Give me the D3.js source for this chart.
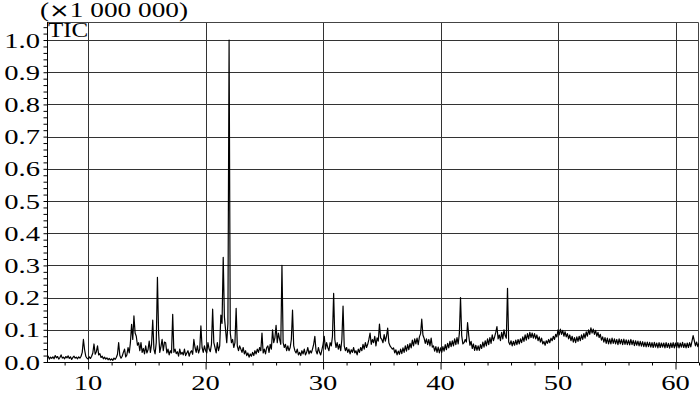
<!DOCTYPE html>
<html>
<head>
<meta charset="utf-8">
<script src="https://cdn.jsdelivr.net/npm/d3@7"></script>
<style>
  body { margin: 0; background: #fff; }
  text { font-family: "Liberation Serif", "Times New Roman", serif; fill: #000; }
</style>
</head>
<body>
<svg width="700" height="393"></svg>
<script>
// TIC chromatogram, intensity in units of 1 000 000, sampled every 0.1 min from 6.5 min
var t0 = 6.5, step = 0.1;
var tic = [
  // 6.5 - 6.9
  .012, .018, .009, .015, .011,
  // 7
  .016, .010, .020, .013, .017, .009, .014, .022, .012, .015,
  // 8
  .010, .017, .013, .019, .011, .016, .008, .014, .018, .012,
  // 9
  .015, .010, .016, .012, .018, .030, .070, .038, .018, .012,
  // 10
  .009, .016, .011, .018, .028, .056, .024, .032, .050, .022,
  // 11
  .026, .014, .018, .010, .015, .009, .013, .007, .011, .006,
  // 12
  .010, .005, .012, .008, .014, .024, .060, .020, .012, .018,
  // 13
  .030, .040, .016, .022, .045, .028, .060, .117, .070, .143,
  // 14
  .090, .080, .052, .060, .035, .060, .030, .042, .025, .050,
  // 15
  .028, .038, .065, .030, .055, .130, .040, .025, .060, .263,
  // 16
  .090, .030, .048, .070, .035, .062, .060, .028, .040, .022,
  // 17
  .035, .028, .148, .030, .040, .026, .032, .018, .040, .024,
  // 18
  .030, .022, .040, .020, .028, .035, .018, .030, .035, .024,
  // 19
  .070, .045, .030, .050, .028, .040, .112, .045, .030, .050,
  // 20
  .035, .028, .060, .040, .032, .055, .164, .060, .045, .028,
  // 21
  .060, .035, .050, .146, .120, .325, .140, .100, .060, .120,
  // 22
  1.000, .090, .060, .070, .045, .060, .167, .050, .035, .050,
  // 23
  .040, .030, .045, .025, .035, .020, .028, .015, .025, .018,
  // 24
  .030, .020, .035, .025, .040, .030, .045, .035, .090, .028,
  // 25
  .040, .025, .045, .050, .030, .055, .040, .100, .060, .075,
  // 26
  .114, .060, .090, .070, .055, .300, .060, .045, .055, .035,
  // 27
  .050, .035, .045, .070, .161, .050, .035, .028, .040, .022,
  // 28
  .030, .020, .035, .025, .040, .022, .030, .045, .025, .035,
  // 29
  .028, .040, .055, .080, .035, .025, .045, .030, .022, .038,
  // 30
  .055, .080, .040, .060, .045, .035, .060, .050, .080, .213,
  // 31
  .070, .045, .060, .040, .055, .035, .070, .174, .050, .035,
  // 32
  .045, .030, .040, .025, .038, .030, .045, .028, .035, .022,
  // 33
  .040, .030, .045, .035, .055, .040, .060, .045, .055, .070,
  // 34
  .090, .055, .070, .060, .080, .050, .075, .065, .118, .075,
  // 35
  .070, .060, .085, .065, .080, .105, .060, .050, .045, .040,
  // 36
  .044, .028, .038, .022, .034, .024, .040, .026, .044, .030,
  // 37
  .050, .034, .054, .038, .058, .044, .068, .050, .072, .056,
  // 38
  .074, .054, .078, .088, .133, .084, .074, .058, .072, .054,
  // 39
  .070, .050, .074, .046, .050, .034, .048, .030, .046, .028,
  // 40
  .044, .030, .048, .034, .054, .038, .058, .044, .064, .048,
  // 41
  .066, .050, .072, .054, .076, .056, .088, .200, .082, .056,
  // 42
  .060, .070, .062, .122, .082, .052, .064, .042, .056, .036,
  // 43
  .052, .036, .050, .036, .054, .042, .062, .046, .066, .050,
  // 44
  .072, .054, .076, .058, .084, .066, .078, .092, .110, .072,
  // 45
  .084, .066, .092, .072, .100, .082, .074, .229, .062, .054,
  // 46
  .066, .050, .064, .052, .068, .054, .070, .056, .072, .060,
  // 47
  .078, .064, .084, .068, .088, .072, .092, .076, .090, .074,
  // 48
  .088, .072, .084, .066, .078, .062, .074, .056, .064, .052,
  // 49
  .066, .058, .070, .060, .074, .066, .080, .070, .086, .078,
  // 50
  .100, .084, .102, .086, .098, .080, .094, .078, .088, .072,
  // 51
  .084, .066, .080, .062, .076, .060, .078, .064, .080, .066,
  // 52
  .084, .070, .088, .074, .094, .080, .100, .086, .106, .090,
  // 53
  .102, .086, .098, .080, .092, .076, .086, .068, .078, .062,
  // 54
  .076, .058, .074, .056, .072, .056, .074, .058, .072, .056,
  // 55
  .070, .054, .072, .056, .070, .054, .071, .055, .069, .054,
  // 56
  .068, .053, .070, .054, .067, .051, .066, .052, .065, .050,
  // 57
  .064, .049, .063, .048, .062, .047, .062, .048, .061, .046,
  // 58
  .060, .045, .061, .046, .059, .044, .060, .045, .059, .046,
  // 59
  .059, .044, .060, .045, .058, .043, .059, .045, .060, .044,
  // 60
  .059, .045, .060, .044, .059, .046, .061, .045, .058, .044,
  // 61
  .059, .045, .060, .047, .064, .082, .066, .050, .062, .048,
  // 62
  .058
];
var xTicks = [10, 20, 30, 40, 50, 60];
var yTicks = [0.0, 0.1, 0.2, 0.3, 0.4, 0.5, 0.6, 0.7, 0.8, 0.9, 1.0];

var svg = d3.select("svg");
var pLeft = 47, pRight = 699, pTop = 22, pBottom = 362;
var sx = 1.3; // stretched serif labels

var x = d3.scaleLinear().domain([6.5, 62]).range([pLeft, pRight]);
var y = d3.scaleLinear().domain([0, 1.056]).range([pBottom, pTop]);

var data = tic.map(function(v, i) { return [t0 + i * step, v]; });

// grid
svg.append("g").selectAll("line")
  .data(yTicks.slice(1))
  .enter().append("line")
    .attr("x1", pLeft).attr("x2", pRight)
    .attr("y1", function(d) { return Math.round(y(d)) + 0.5; })
    .attr("y2", function(d) { return Math.round(y(d)) + 0.5; })
    .attr("stroke", "#333");

svg.append("g").selectAll("line")
  .data(xTicks)
  .enter().append("line")
    .attr("x1", function(d) { return Math.round(x(d)) + 0.5; })
    .attr("x2", function(d) { return Math.round(x(d)) + 0.5; })
    .attr("y1", pTop).attr("y2", pBottom)
    .attr("stroke", "#333");

// frame: top and right borders
svg.append("path")
    .attr("d", "M" + pLeft + "," + (pTop + 0.5) + "H" + (pRight - 0.5) + "V" + pBottom)
    .attr("fill", "none")
    .attr("stroke", "#444");

// axes
var yAxis = svg.append("g")
    .attr("transform", "translate(" + (pLeft + 0.5) + ",0)")
    .call(d3.axisLeft(y).tickValues(d3.range(0, 1.05, 0.02)).tickSize(4).tickFormat(""));
yAxis.select(".domain").attr("d", "M0," + pTop + "V" + (pBottom + 0.5));

var xAxis = svg.append("g")
    .attr("transform", "translate(0," + (pBottom + 0.5) + ")")
    .call(d3.axisBottom(x).tickValues(d3.range(8, 62.1, 2)).tickSize(3).tickFormat(""));
xAxis.select(".domain").attr("d", "M" + pLeft + ",0H" + pRight);
xAxis.selectAll(".tick line")
    .attr("y2", function(d) { return Math.round(d) % 10 === 0 ? 7 : 3; });

// trace
svg.append("clipPath").attr("id", "clip")
  .append("rect").attr("x", pLeft).attr("y", pTop)
    .attr("width", pRight - pLeft).attr("height", pBottom - pTop);

svg.append("path")
    .datum(data)
    .attr("clip-path", "url(#clip)")
    .attr("fill", "none")
    .attr("stroke", "#000")
    .attr("stroke-width", 1.2)
    .attr("stroke-linejoin", "round")
    .attr("d", d3.line()
      .x(function(d) { return x(d[0]); })
      .y(function(d) { return y(d[1]); }));

// labels
svg.append("g").selectAll("text")
  .data(yTicks)
  .enter().append("text")
    .attr("transform", function(d) { return "translate(40," + (y(d) + 7.5) + ") scale(" + sx + ",1)"; })
    .attr("text-anchor", "end")
    .attr("font-size", 22)
    .text(function(d) { return d3.format(".1f")(d); });

svg.append("g").selectAll("text")
  .data(xTicks)
  .enter().append("text")
    .attr("transform", function(d) { return "translate(" + x(d) + ",390) scale(" + sx + ",1)"; })
    .attr("text-anchor", "middle")
    .attr("font-size", 22)
    .text(function(d) { return d; });

var unit = svg.append("text")
    .attr("transform", "translate(40,17) scale(" + sx + ",1)")
    .attr("font-size", 21);
unit.append("tspan").text("(");
unit.append("tspan").attr("font-family", "DejaVu Sans").attr("font-size", 19).text("\u00d7");
unit.append("tspan").text("1 000 000)");

svg.append("text")
    .attr("transform", "translate(48,37) scale(1.25,1)")
    .attr("font-size", 20)
    .text("TIC");
</script>
</body>
</html>
